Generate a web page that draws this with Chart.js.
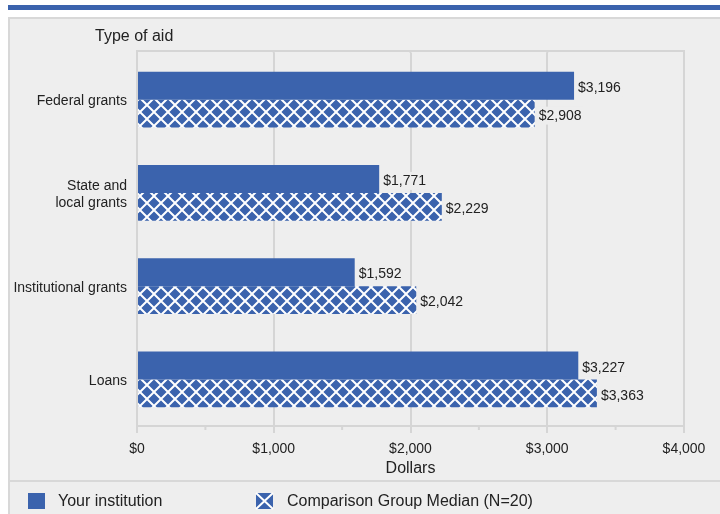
<!DOCTYPE html>
<html>
<head>
<meta charset="utf-8">
<script src="https://cdn.jsdelivr.net/npm/chart.js@4.4.1/dist/chart.umd.min.js"></script>
<style>
  body { margin: 0; background: #fff; }
  canvas { display: block; }
</style>
</head>
<body>
<canvas id="myChart" width="720" height="514"></canvas>
<script>
// data
const categories = ["Federal grants", ["State and", "local grants"], "Institutional grants", "Loans"];
const seriesNames = ["Your institution", "Comparison Group Median (N=20)"];
const yourInstitution = [3196, 1771, 1592, 3227];
const comparisonMedian = [2908, 2229, 2042, 3363];
const xTicks = [0, 1000, 2000, 3000, 4000];

const BLUE = '#3b63ad';
const GRID = '#d5d5d5';
const PANEL = '#eeeeee';
const FONT = 'Arial, "Liberation Sans", sans-serif';

function money(v) {
  return '$' + v.toLocaleString('en-US');
}

// cross hatch used for the comparison bars
function makeHatch() {
  let c = document.createElement('canvas');
  c.width = 14; c.height = 14;
  let g = c.getContext('2d');
  g.fillStyle = BLUE;
  g.fillRect(0, 0, 14, 14);
  g.strokeStyle = '#ffffff';
  g.lineWidth = 2;
  g.beginPath();
  g.moveTo(0, 0); g.lineTo(14, 14);
  g.moveTo(14, 0); g.lineTo(0, 14);
  g.stroke();
  return g.createPattern(c, 'repeat');
}

window.onload = function() {
  let canva = document.getElementById('myChart').getContext('2d');
  let hatch = makeHatch();

  // panel, top stripe, frame, y title
  let backdrop = {
    id: 'backdrop',
    beforeDraw(chart) {
      let ctx = chart.ctx;
      ctx.save();
      ctx.fillStyle = '#fff';
      ctx.fillRect(0, 0, 720, 514);
      ctx.fillStyle = BLUE;
      ctx.fillRect(8, 5, 712, 5);
      ctx.fillStyle = PANEL;
      ctx.fillRect(8, 17, 712, 497);
      ctx.strokeStyle = '#d8d8d8';
      ctx.lineWidth = 2;
      ctx.strokeRect(9, 18, 720, 510);
      ctx.beginPath();
      ctx.moveTo(8, 481); ctx.lineTo(720, 481);
      ctx.stroke();
      ctx.fillStyle = '#222';
      ctx.font = '16px ' + FONT;
      ctx.textBaseline = 'middle';
      ctx.fillText('Type of aid', 95, 37);
      ctx.restore();
    },
    afterDraw(chart) {
      let ctx = chart.ctx;
      let a = chart.chartArea;
      let xs = chart.scales.x;
      ctx.save();
      ctx.strokeStyle = GRID;
      ctx.lineWidth = 2;
      // frame round the plot: top edge and left part
      ctx.beginPath();
      ctx.moveTo(a.left - 1, 51); ctx.lineTo(a.right + 1, 51);
      ctx.moveTo(a.left, 51); ctx.lineTo(a.left, a.top);
      ctx.moveTo(a.right, 51); ctx.lineTo(a.right, a.top);
      xTicks.forEach(v => {
        let px = xs.getPixelForValue(v);
        ctx.moveTo(px, 51); ctx.lineTo(px, a.top);
      });
      ctx.stroke();
      // minor ticks
      [500, 1500, 2500, 3500].forEach(v => {
        let px = xs.getPixelForValue(v);
        ctx.beginPath();
        ctx.moveTo(px, a.bottom); ctx.lineTo(px, a.bottom + 4);
        ctx.stroke();
      });

      // legend
      ctx.font = '16px ' + FONT;
      ctx.textBaseline = 'middle';
      ctx.fillStyle = BLUE;
      ctx.fillRect(28, 493, 17, 16);
      ctx.fillStyle = '#222';
      ctx.fillText(seriesNames[0], 58, 502);

      ctx.fillStyle = BLUE;
      ctx.fillRect(256, 493, 17, 16);
      ctx.strokeStyle = '#fff';
      ctx.beginPath();
      ctx.moveTo(256, 493); ctx.lineTo(273, 509);
      ctx.moveTo(273, 493); ctx.lineTo(256, 509);
      ctx.stroke();
      ctx.fillStyle = '#222';
      ctx.fillText(seriesNames[1], 287, 502);
      ctx.restore();
    },
    afterDatasetsDraw(chart) {
      let ctx = chart.ctx;
      ctx.save();
      ctx.font = '14px ' + FONT;
      ctx.textBaseline = 'middle';
      chart.data.datasets.forEach((ds, i) => {
        chart.getDatasetMeta(i).data.forEach((bar, j) => {
          let txt = money(ds.data[j]);
          let w = ctx.measureText(txt).width;
          ctx.fillStyle = PANEL;
          ctx.fillRect(bar.x + 2, bar.y - 7, w + 4, 18);
          ctx.fillStyle = '#222';
          ctx.fillText(txt, bar.x + 4, bar.y + 2.5);
        });
      });
      ctx.restore();
    }
  };

  let myChart = new Chart(canva, {
    type: 'bar',
    data: {
      labels: categories,
      datasets: [
        {
          label: seriesNames[0],
          backgroundColor: BLUE,
          data: yourInstitution
        },
        {
          label: seriesNames[1],
          backgroundColor: hatch,
          data: comparisonMedian
        }
      ]
    },
    options: {
      indexAxis: 'y',
      responsive: false,
      animation: false,
      events: [],
      layout: { padding: { left: 0, top: 53, right: 36, bottom: 33 } },
      datasets: { bar: { categoryPercentage: 0.6, barPercentage: 1.0 } },
      plugins: {
        legend: { display: false },
        tooltip: { enabled: false }
      },
      scales: {
        x: {
          min: 0,
          max: 4000,
          afterBuildTicks: scale => {
            scale.ticks = xTicks.map(v => ({ value: v }));
          },
          afterFit: scale => { scale.height = 55; },
          grid: { color: GRID, lineWidth: 2, tickColor: GRID, tickLength: 7 },
          border: { color: GRID, width: 2 },
          ticks: {
            padding: 8,
            color: '#222',
            font: { family: FONT, size: 14 },
            callback: v => money(v)
          },
          title: {
            display: true,
            text: 'Dollars',
            color: '#222',
            font: { family: FONT, size: 16 },
            padding: { top: 0, bottom: 3 }
          }
        },
        y: {
          afterFit: scale => { scale.width = 137; },
          grid: { color: 'rgba(0,0,0,0)', drawTicks: false },
          border: { color: GRID, width: 2 },
          ticks: {
            padding: 10,
            labelOffset: 2,
            color: '#222',
            font: { family: FONT, size: 14 }
          }
        }
      }
    },
    plugins: [backdrop]
  });
};
</script>
</body>
</html>
